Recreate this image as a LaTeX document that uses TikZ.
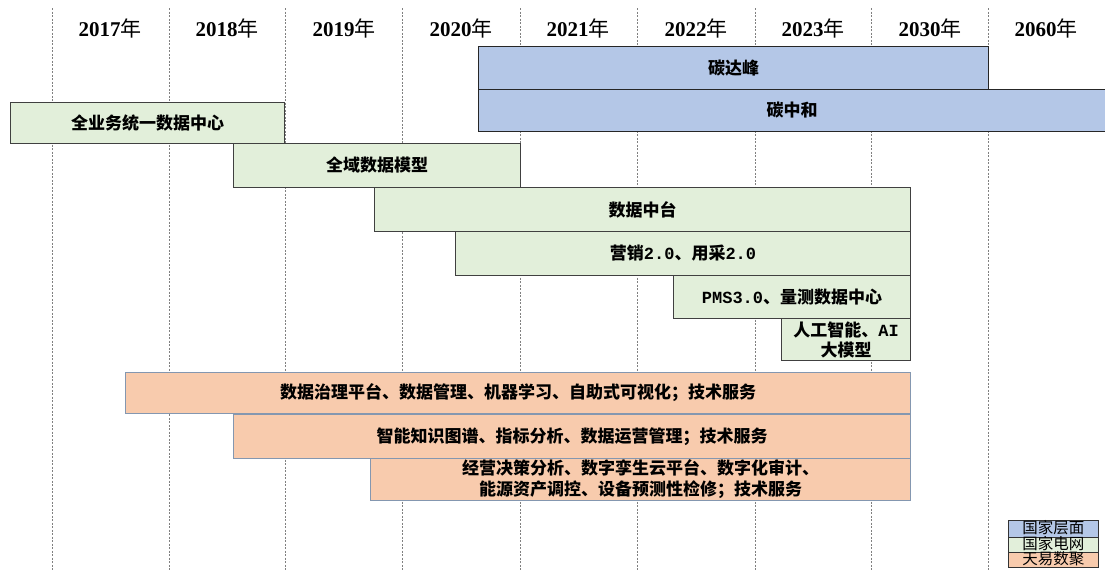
\documentclass[tikz,border=0pt]{standalone}
\usepackage{fontspec}
\setmainfont{Noto Sans CJK SC}
\newfontfamily\yearfont{Liberation Serif}
\newfontfamily\latmono{Liberation Mono}
\definecolor{natblue}{HTML}{B4C7E7}
\definecolor{sgccgreen}{HTML}{E2EFDA}
\definecolor{tyorange}{HTML}{F8CBAD}
\definecolor{tyborder}{HTML}{8497B0}
\definecolor{gridgray}{HTML}{808080}
\begin{document}
\begin{tikzpicture}[x=1pt,y=-1pt,
  yearlbl/.style={font=\fontsize{21}{21}\selectfont, inner sep=0pt},
  gridline/.style={draw=gridgray, line width=0.8pt, dash pattern=on 2pt off 1.5pt},
  bar/.style={line width=1pt, anchor=north west, inner sep=0pt, align=center,
    font=\fontsize{17}{20}\selectfont\bfseries},
  natbar/.style={bar, fill=natblue, draw=black!85},
  sgccbar/.style={bar, fill=sgccgreen, draw=black!75},
  tybar/.style={bar, fill=tyorange, draw=tyborder},
  legbox/.style={line width=0.8pt, anchor=north west, inner sep=0pt, minimum width=90pt,
    text height=12pt, text depth=2pt, font=\fontsize{15.5}{15.5}\selectfont, draw=black!80},
]
\useasboundingbox (0,0) rectangle (1105,570);
% grid lines
\foreach \i/\x in {0/52,1/169,2/285,3/402,4/520,5/637,6/755,7/871,8/988}{
  \coordinate (g\i t) at (\x,8);
  \coordinate (g\i b) at (\x,570);
  \draw[gridline] (g\i t) -- (g\i b);
}
% year headers
\node[yearlbl] (y2017) at (110,28) {{\yearfont\bfseries 2017}年};
\node[yearlbl] (y2018) at (227,28) {{\yearfont\bfseries 2018}年};
\node[yearlbl] (y2019) at (344,28) {{\yearfont\bfseries 2019}年};
\node[yearlbl] (y2020) at (461,28) {{\yearfont\bfseries 2020}年};
\node[yearlbl] (y2021) at (578,28) {{\yearfont\bfseries 2021}年};
\node[yearlbl] (y2022) at (696,28) {{\yearfont\bfseries 2022}年};
\node[yearlbl] (y2023) at (813,28) {{\yearfont\bfseries 2023}年};
\node[yearlbl] (y2030) at (930,28) {{\yearfont\bfseries 2030}年};
\node[yearlbl] (y2060) at (1046,28) {{\yearfont\bfseries 2060}年};
% national level
\node[natbar, minimum width=510pt, minimum height=43pt] (tdf) at (478,46) {碳达峰};
\node[natbar, minimum width=627pt, minimum height=42pt] (tzh) at (478,89) {碳中和};
% SGCC
\node[sgccbar, minimum width=274pt, minimum height=41pt] (qyw) at (10,102) {全业务统一数据中心};
\node[sgccbar, minimum width=287pt, minimum height=44pt] (qys) at (233,143) {全域数据模型};
\node[sgccbar, minimum width=536pt, minimum height=44pt] (sjzt) at (374,187) {数据中台};
\node[sgccbar, minimum width=455pt, minimum height=44pt] (yx) at (455,231) {营销{\latmono 2.0}、用采{\latmono 2.0}};
\node[sgccbar, minimum width=237pt, minimum height=43pt] (pms) at (673,275) {{\latmono PMS3.0}、量测数据中心};
\node[sgccbar, minimum width=129pt, minimum height=42pt, font=\fontsize{17}{20}\selectfont\bfseries] (ai) at (781,318) {人工智能、{\latmono AI}\\大模型};
% Tianyi
\node[tybar, minimum width=785pt, minimum height=41pt] (o1) at (125,372) {数据治理平台、数据管理、机器学习、自助式可视化；技术服务};
\node[tybar, minimum width=677pt, minimum height=44pt] (o2) at (233,414) {智能知识图谱、指标分析、数据运营管理；技术服务};
\node[tybar, minimum width=540pt, minimum height=42pt, font=\fontsize{17}{21}\selectfont\bfseries] (o3) at (370,458) {经营决策分析、数字孪生云平台、数字化审计、\\能源资产调控、设备预测性检修；技术服务};
% legend
\node[legbox, fill=natblue, minimum height=17pt] (l1) at (1008,520) {国家层面};
\node[legbox, fill=sgccgreen, minimum height=15pt] (l2) at (1008,537) {国家电网};
\node[legbox, fill=tyorange, minimum height=15pt] (l3) at (1008,552) {天易数聚};
\end{tikzpicture}
\end{document}
